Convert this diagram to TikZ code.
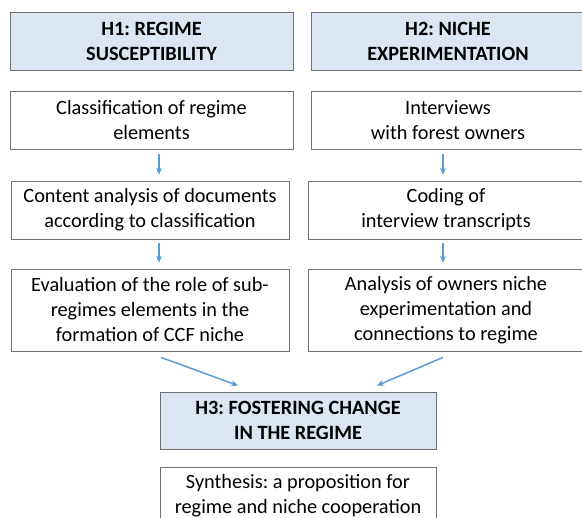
\documentclass[tikz,border=0pt]{standalone}
\usepackage{fontspec}
\setmainfont{Carlito}
\frenchspacing
\usetikzlibrary{arrows.meta}
\definecolor{hblau}{HTML}{DCE6F2}
\definecolor{pblau}{HTML}{5B9BD5}
\definecolor{rgrau}{HTML}{707070}

\begin{document}
\begin{tikzpicture}[x=1pt, y=-1pt, >={Stealth[pblau, length=7pt, width=6pt]},
        box/.style={draw=rgrau, line width=0.8pt, align=center, inner sep=0pt, font=\fontsize{20.3}{25}\selectfont},
        hypo/.style={box, fill=hblau, font=\fontsize{20.3}{25}\selectfont\bfseries},
        pfeil/.style={->, pblau, line width=1.5pt}]
        \clip (0, 0) rectangle (582, 518);
        % hypotheses
        \node[hypo, minimum width=283pt, minimum height=58pt] (H1) at (151.5, 41) {H1: REGIME\\SUSCEPTIBILITY};
        \node[hypo, minimum width=274pt, minimum height=58pt] (H2) at (448, 41) {H2: NICHE\\EXPERIMENTATION};
        % left column
        \node[box, minimum width=283pt, minimum height=58pt] (K1) at (151.5, 120) {Classification of regime\\elements};
        \node[box, minimum width=278pt, minimum height=58pt] (K2) at (150, 210) {Content analysis of documents\\according to classification};
        \node[box, minimum width=278pt, minimum height=82pt] (K3) at (150, 310) {Evaluation of the role of sub-\\regimes elements in the\\formation of CCF niche};
        % right column
        \node[box, minimum width=274pt, minimum height=58pt] (I1) at (448, 120) {Interviews\\with forest owners};
        \node[box, minimum width=276pt, minimum height=58pt] (I2) at (446, 210) {Coding of\\interview transcripts};
        \node[box, minimum width=276pt, minimum height=82pt] (I3) at (446, 310) {Analysis of owners niche\\experimentation and\\connections to regime};
        % synthesis
        \node[hypo, minimum width=276pt, minimum height=57pt] (H3) at (298, 420.5) {H3: FOSTERING CHANGE\\IN THE REGIME};
        \node[box, minimum width=276pt, minimum height=57pt] (S) at (298, 495.5) {Synthesis: a proposition for\\regime and niche cooperation};
        % arrows
        \draw[pfeil] ([xshift=7.5pt, yshift=-5pt]K1.south) -- ([xshift=9pt, yshift=6pt]K2.north);
        \draw[pfeil] ([xshift=9pt, yshift=-4pt]K2.south) -- ([xshift=9pt, yshift=6pt]K3.north);
        \draw[pfeil] ([xshift=-5pt, yshift=-5pt]I1.south) -- ([xshift=-3pt, yshift=6pt]I2.north);
        \draw[pfeil] ([xshift=-3pt, yshift=-4pt]I2.south) -- ([xshift=-3pt, yshift=6pt]I3.north);
        \draw[pfeil] ([xshift=11pt, yshift=-6pt]K3.south) -- ([xshift=-60pt, yshift=6pt]H3.north);
        \draw[pfeil] ([xshift=-3pt, yshift=-6pt]I3.south) -- ([xshift=79pt, yshift=6pt]H3.north);
    \end{tikzpicture}
\end{document}
